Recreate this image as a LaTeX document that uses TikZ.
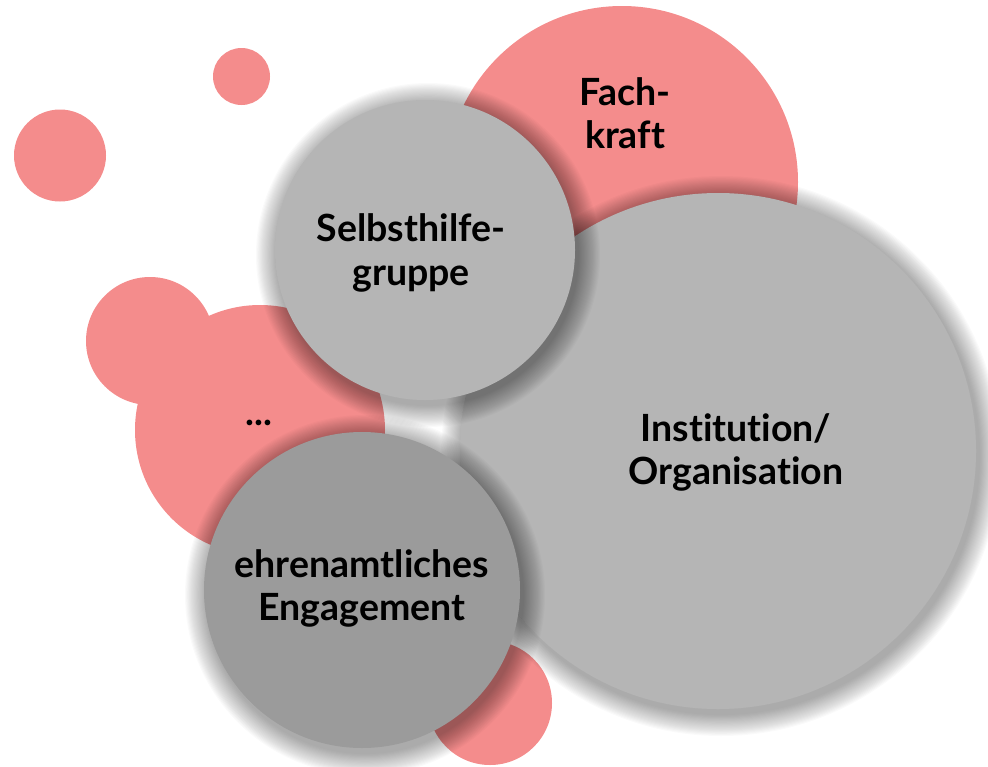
\documentclass[tikz,border=0pt]{standalone}
\usepackage{fontspec}
\setmainfont{Lato}[Ligatures=NoCommon]
\definecolor{pinkc}{HTML}{F48C8C}
\definecolor{greyl}{HTML}{B5B5B5}
\definecolor{greyd}{HTML}{9B9B9B}
\newcommand\mysoftshadow[3]{%
  \foreach \k in {0,...,19}{%
    \fill[black, opacity=0.018] (#1+3,#2+5) circle ({#3+22*(1-\k/20)});
  }}
\begin{document}
\begin{tikzpicture}[x=1pt,y=-1pt,
  pinkdisc/.style={fill=pinkc},
  greydisc/.style={fill=greyl},
  darkdisc/.style={fill=greyd},
  lbl/.style={font=\fontsize{37.5}{44}\selectfont\bfseries, text=black, inner sep=0pt, anchor=base}]
\useasboundingbox (0,0) rectangle (988,766);
% pink background discs
\fill[pinkdisc] (241.5,76.5) circle (28.5);
\fill[pinkdisc] (60,155.5) circle (46);
\fill[pinkdisc] (622,182) circle (176);
\fill[pinkdisc] (150,341) circle (64);
\fill[pinkdisc] (260,430) circle (125);
\fill[pinkdisc] (490,703) circle (62);
% grey discs with soft shadows
\mysoftshadow{718}{451}{258}
\fill[greydisc] (718,451) circle (258);
\mysoftshadow{425}{250}{150}
\fill[greydisc] (425,250) circle (150);
\mysoftshadow{362}{590}{158}
\fill[darkdisc] (362,590) circle (158);
% labels
\node[lbl] (fach1) at (625,105) {Fach-};
\node[lbl] (fach2) at (625,148) {kraft};
\node[lbl] (selb1) at (411,241) {Selbsthilfe-};
\node[lbl] (selb2) at (411,285) {gruppe};
\node[lbl] (dots) at (259,425) {...};
\node[lbl] (inst1) at (736,441) {Institution/};
\node[lbl] (inst2) at (736,484) {Organisation};
\node[lbl] (ehr1) at (362,577) {ehrenamtliches};
\node[lbl] (ehr2) at (362,620) {Engagement};
\end{tikzpicture}
\end{document}
